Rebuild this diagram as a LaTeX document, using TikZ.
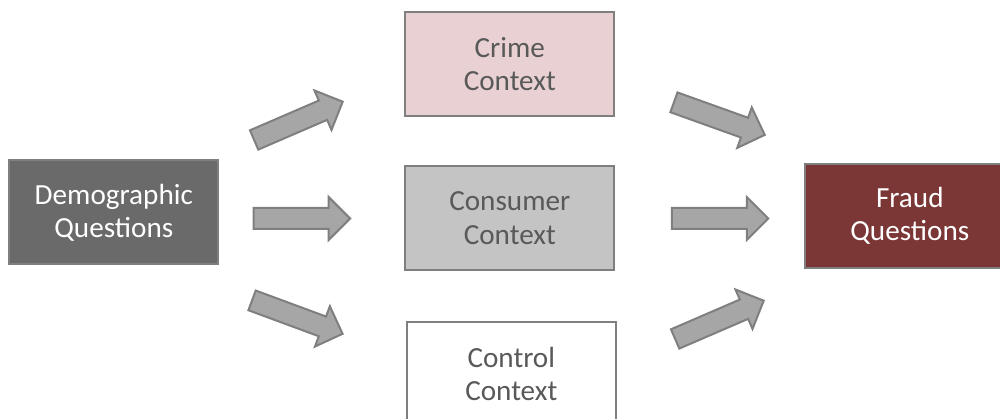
\documentclass[tikz,border=0pt]{standalone}
\usepackage{fontspec}
\setmainfont{Carlito}
\usetikzlibrary{shapes.arrows, positioning}
\definecolor{boxline}{HTML}{7F7F7F}
\definecolor{darkgrey}{HTML}{6A6A6A}
\definecolor{pinkfill}{HTML}{E9D1D3}
\definecolor{midgrey}{HTML}{C4C4C4}
\definecolor{fraudred}{HTML}{7B3636}
\definecolor{textgrey}{HTML}{595959}
\definecolor{arrowfill}{HTML}{A6A6A6}
\tikzstyle{box} = [rectangle, minimum width=4.18cm, minimum height=2.08cm, align=center, draw=boxline, line width=0.04cm, font=\fontsize{16.6}{19}\selectfont, inner sep=0pt]
\tikzstyle{lightbox} = [box, text=textgrey]
\tikzstyle{darkbox} = [box, text=white]
\tikzstyle{fatarrow} = [single arrow, draw=boxline, fill=arrowfill, line width=0.04cm, minimum height=1.93cm, minimum width=0.86cm, single arrow head extend=0.22cm, inner xsep=0pt, inner ysep=0.19cm, outer sep=0pt, sloped, pos=0.45]

\begin{document}
\begin{tikzpicture}

\useasboundingbox (0,0) rectangle (20,-8.38);

% Nodes
\node (consumer) [lightbox, fill=midgrey] at (10.196,-4.36) {Consumer\\Context};
\node (crime) [lightbox, fill=pinkfill, above=0.96cm of consumer] {Crime\\Context};
\node (control) [lightbox, fill=white, below=1.0cm of consumer, xshift=0.03cm] {Control\\Context};
\node (demo) [darkbox, fill=darkgrey, left=3.7cm of consumer, yshift=0.11cm] {Demographic\\Questions};
\node (fraud) [darkbox, fill=fraudred, right=3.78cm of consumer, yshift=0.04cm] {Fraud\\Questions};

% Arrow ends
\coordinate (t1) at (5.08,-2.80);  \coordinate (h1) at (6.84,-2.04);
\coordinate (t2) at (5.06,-4.37);  \coordinate (h2) at (7.00,-4.37);
\coordinate (t3) at (5.02,-6.00);  \coordinate (h3) at (6.86,-6.68);
\coordinate (t4) at (13.46,-2.04); \coordinate (h4) at (15.30,-2.70);
\coordinate (t5) at (13.44,-4.37); \coordinate (h5) at (15.34,-4.37);
\coordinate (t6) at (13.50,-6.78); \coordinate (h6) at (15.26,-6.02);

% Arrows
\path (t1) -- (h1) node (a1) [fatarrow] {};
\path (t2) -- (h2) node (a2) [fatarrow] {};
\path (t3) -- (h3) node (a3) [fatarrow] {};
\path (t4) -- (h4) node (a4) [fatarrow] {};
\path (t5) -- (h5) node (a5) [fatarrow] {};
\path (t6) -- (h6) node (a6) [fatarrow] {};

\end{tikzpicture}
\end{document}
